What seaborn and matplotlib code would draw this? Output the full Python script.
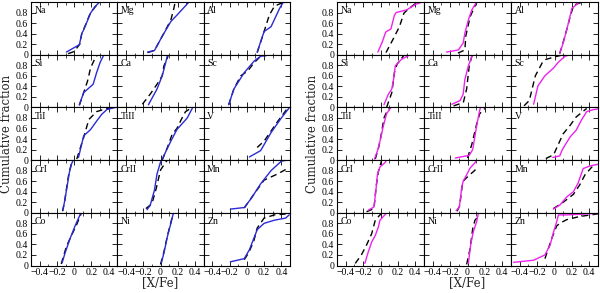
import numpy as np
import pandas as pd
import matplotlib
matplotlib.use("Agg")
import matplotlib.pyplot as plt
import seaborn as sns
from matplotlib.ticker import MultipleLocator, FixedLocator

ELEMENTS = ["Na", "Mg", "Al", "Si", "Ca", "Sc", "TiI", "TiII", "V",
            "CrI", "CrII", "Mn", "Co", "Ni", "Zn"]
X_TICKS = [-0.4, -0.2, 0.0, 0.2, 0.4]
X_TICK_LABELS = ["\u22120.4", "\u22120.2", "0", "0.2", "0.4"]
Y_TICKS = [0.0, 0.2, 0.4, 0.6, 0.8]
Y_TICK_LABELS = ["0", "0.2", "0.4", "0.6", "0.8"]

# left panel: blue solid and black dashed cumulative curves, (x, fraction)
LEFT_SOLID = {
    "Na": [(-0.09, 0.05), (0.06, 0.19), (0.09, 0.41), (0.11, 0.47), (0.19, 0.79), (0.24, 0.91), (0.32, 1.04)],
    "Mg": [(-0.15, 0.05), (-0.07, 0.08), (0.02, 0.35), (0.12, 0.63), (0.19, 0.75), (0.33, 1.0)],
    "Al": [(0.12, 0.05), (0.20, 0.44), (0.28, 0.53), (0.38, 0.88), (0.42, 0.99), (0.49, 1.0)],
    "Si": [(0.06, 0.05), (0.11, 0.28), (0.22, 0.44), (0.26, 0.66), (0.30, 0.85), (0.35, 1.02)],
    "Ca": [(-0.14, 0.05), (-0.04, 0.35), (0.02, 0.60), (0.06, 0.85), (0.085, 1.02)],
    "Sc": [(-0.21, 0.05), (-0.15, 0.35), (-0.03, 0.66), (0.085, 0.88), (0.16, 0.97), (0.24, 0.99)],
    "TiI": [(0.05, 0.05), (0.11, 0.46), (0.19, 0.58), (0.26, 0.74), (0.32, 0.87), (0.38, 0.96), (0.48, 1.0)],
    "TiII": [(0.02, 0.02), (0.12, 0.36), (0.19, 0.58), (0.31, 0.80), (0.37, 0.99)],
    "V": [(0.03, 0.06), (0.16, 0.18), (0.28, 0.52), (0.40, 0.80), (0.49, 0.99)],
    "CrI": [(-0.13, 0.05), (-0.105, 0.27), (-0.08, 0.52), (-0.055, 0.77), (-0.03, 0.93), (-0.01, 1.0), (0.10, 1.0)],
    "CrII": [(-0.155, 0.06), (-0.12, 0.14), (-0.07, 0.43), (-0.04, 0.74), (0.0, 0.96), (0.02, 1.02)],
    "Mn": [(-0.19, 0.07), (-0.03, 0.10), (0.05, 0.27), (0.16, 0.55), (0.28, 0.80), (0.40, 0.98), (0.47, 1.0)],
    "Co": [(-0.14, 0.05), (-0.105, 0.24), (-0.05, 0.50), (0.01, 0.75), (0.07, 0.97), (0.09, 1.01)],
    "Ni": [(0.01, 0.05), (0.04, 0.24), (0.08, 0.55), (0.12, 0.80), (0.15, 1.0)],
    "Zn": [(-0.19, 0.07), (-0.03, 0.13), (0.03, 0.30), (0.12, 0.68), (0.20, 0.80), (0.32, 0.86), (0.45, 0.90), (0.49, 0.96)],
}
LEFT_DASH = {
    "Na": [(-0.07, 0.02), (0.0, 0.06), (0.065, 0.20), (0.09, 0.42), (0.11, 0.48), (0.19, 0.80), (0.25, 0.92), (0.32, 1.04)],
    "Mg": [(-0.15, 0.04), (-0.07, 0.08), (0.04, 0.41), (0.12, 0.66), (0.155, 0.88), (0.17, 1.0)],
    "Al": [(0.12, 0.04), (0.20, 0.44), (0.26, 0.75), (0.32, 0.92), (0.43, 1.0)],
    "Si": [(0.06, 0.04), (0.11, 0.28), (0.155, 0.50), (0.19, 0.75), (0.25, 0.96), (0.28, 1.01)],
    "Ca": [(-0.21, 0.06), (-0.12, 0.25), (-0.04, 0.44), (0.02, 0.60), (0.04, 0.79), (0.08, 0.94), (0.09, 1.0)],
    "Sc": [(-0.21, 0.05), (-0.15, 0.35), (-0.07, 0.60), (0.01, 0.69), (0.085, 0.85), (0.16, 0.97), (0.24, 0.99)],
    "TiI": [(0.03, 0.02), (0.11, 0.43), (0.17, 0.77), (0.26, 0.92), (0.38, 0.98), (0.48, 1.0)],
    "TiII": [(0.02, 0.0), (0.08, 0.24), (0.135, 0.49), (0.19, 0.60), (0.25, 0.80), (0.29, 0.92), (0.35, 0.98)],
    "V": [(0.12, 0.24), (0.20, 0.36), (0.28, 0.55), (0.36, 0.74), (0.47, 0.98)],
    "CrI": [(-0.135, 0.03), (-0.11, 0.22), (-0.085, 0.50), (-0.06, 0.76), (-0.03, 0.94), (0.0, 1.0)],
    "CrII": [(-0.17, 0.08), (-0.10, 0.17), (-0.05, 0.46), (0.0, 0.81), (0.06, 0.96), (0.08, 1.0)],
    "Mn": [(-0.03, 0.09), (0.085, 0.36), (0.20, 0.62), (0.36, 0.74), (0.47, 0.84)],
    "Co": [(-0.15, 0.03), (-0.09, 0.36), (-0.04, 0.54), (0.03, 0.78), (0.08, 0.98)],
    "Ni": [(0.0, 0.02), (0.04, 0.26), (0.08, 0.56), (0.12, 0.82), (0.15, 1.0)],
    "Zn": [(-0.03, 0.11), (0.02, 0.24), (0.08, 0.46), (0.12, 0.71), (0.20, 0.90), (0.32, 0.96), (0.47, 0.98)],
}
# right panel: magenta solid and black dashed cumulative curves
RIGHT_SOLID = {
    "Na": [(-0.03, 0.05), (0.02, 0.24), (0.06, 0.43), (0.12, 0.49), (0.16, 0.75), (0.18, 0.80), (0.30, 0.85), (0.41, 0.96), (0.48, 1.0)],
    "Mg": [(-0.24, 0.05), (-0.105, 0.09), (-0.05, 0.22), (-0.03, 0.41), (0.01, 0.66), (0.05, 0.85), (0.105, 1.0)],
    "Al": [(0.06, 0.03), (0.10, 0.22), (0.16, 0.60), (0.20, 0.88), (0.29, 1.0)],
    "Si": [(0.04, 0.05), (0.09, 0.25), (0.13, 0.35), (0.15, 0.53), (0.17, 0.79), (0.24, 0.91), (0.34, 1.0)],
    "Ca": [(-0.18, 0.06), (-0.085, 0.13), (-0.05, 0.25), (-0.03, 0.53), (0.01, 0.79), (0.05, 0.97), (0.06, 1.01)],
    "Sc": [(-0.24, 0.06), (-0.19, 0.41), (-0.11, 0.60), (-0.01, 0.75), (0.04, 0.85), (0.12, 0.97), (0.16, 0.99)],
    "TiI": [(-0.07, 0.02), (-0.03, 0.20), (0.0, 0.40), (0.03, 0.63), (0.07, 0.88), (0.12, 1.0)],
    "TiII": [(-0.14, 0.04), (0.02, 0.09), (0.06, 0.20), (0.10, 0.60), (0.14, 0.95), (0.15, 1.0)],
    "V": [(-0.02, 0.05), (0.06, 0.08), (0.09, 0.20), (0.18, 0.44), (0.25, 0.57), (0.31, 0.76), (0.37, 0.92), (0.45, 0.96), (0.50, 0.97)],
    "CrI": [(-0.14, 0.05), (-0.075, 0.11), (-0.05, 0.47), (-0.036, 0.72), (-0.006, 0.87), (0.05, 0.95), (0.07, 1.0)],
    "CrII": [(-0.13, 0.04), (-0.094, 0.11), (-0.067, 0.47), (-0.05, 0.60), (-0.01, 0.72), (0.03, 0.85), (0.086, 0.95), (0.10, 1.0)],
    "Mn": [(-0.013, 0.07), (0.063, 0.15), (0.14, 0.30), (0.217, 0.40), (0.27, 0.56), (0.33, 0.84), (0.41, 0.89), (0.50, 0.92)],
    "Co": [(-0.18, 0.04), (-0.14, 0.26), (-0.10, 0.45), (-0.06, 0.57), (-0.025, 0.73), (-0.006, 0.86), (0.05, 0.96), (0.07, 1.0)],
    "Ni": [(0.01, 0.04), (0.036, 0.39), (0.067, 0.64), (0.105, 0.83), (0.125, 0.99)],
    "Zn": [(-0.47, 0.06), (-0.24, 0.10), (-0.11, 0.20), (-0.05, 0.39), (-0.01, 0.64), (0.025, 0.83), (0.045, 0.96), (0.14, 0.96), (0.50, 0.99)],
}
RIGHT_DASH = {
    "Na": [(0.063, 0.04), (0.14, 0.28), (0.217, 0.53), (0.27, 0.79), (0.33, 0.88), (0.41, 0.98), (0.44, 1.0)],
    "Mg": [(-0.11, 0.03), (-0.03, 0.09), (-0.02, 0.35), (0.03, 0.72), (0.09, 0.94), (0.11, 1.0)],
    "Al": [(0.06, 0.02), (0.12, 0.35), (0.18, 0.72), (0.22, 0.94), (0.32, 1.0)],
    "Si": [(0.07, 0.0), (0.13, 0.28), (0.16, 0.66), (0.19, 0.82), (0.27, 0.99)],
    "Ca": [(-0.16, 0.03), (-0.048, 0.09), (-0.01, 0.35), (0.02, 0.79), (0.05, 0.97), (0.06, 1.0)],
    "Sc": [(-0.35, 0.03), (-0.29, 0.13), (-0.22, 0.60), (-0.14, 0.85), (-0.10, 0.91), (0.005, 0.96), (0.08, 0.99)],
    "TiI": [(-0.06, 0.02), (-0.02, 0.25), (0.01, 0.50), (0.04, 0.80), (0.08, 0.95), (0.12, 1.0)],
    "TiII": [(0.0, 0.04), (0.05, 0.30), (0.10, 0.65), (0.14, 0.88), (0.20, 0.98)],
    "V": [(-0.10, 0.03), (-0.01, 0.10), (0.03, 0.25), (0.10, 0.50), (0.18, 0.66), (0.25, 0.82), (0.37, 0.98)],
    "CrI": [(-0.16, 0.02), (-0.075, 0.08), (-0.05, 0.50), (-0.025, 0.78), (0.01, 0.98)],
    "CrII": [(-0.12, 0.03), (-0.09, 0.13), (-0.055, 0.59), (0.01, 0.70), (0.067, 0.78), (0.125, 0.87)],
    "Mn": [(-0.013, 0.08), (0.10, 0.20), (0.217, 0.35), (0.29, 0.53), (0.35, 0.72), (0.43, 0.87), (0.48, 0.92)],
    "Co": [(-0.29, 0.04), (-0.22, 0.20), (-0.16, 0.39), (-0.10, 0.61), (-0.06, 0.86), (-0.006, 0.96), (0.02, 1.0)],
    "Ni": [(-0.01, 0.02), (0.03, 0.32), (0.06, 0.70), (0.086, 0.86), (0.14, 0.96)],
    "Zn": [(-0.11, 0.13), (-0.03, 0.52), (0.025, 0.75), (0.06, 0.80), (0.14, 0.87), (0.29, 0.93), (0.50, 0.98)],
}

SOLID_COLORS = ["#2a2ad6", "#ee22ee"]

sns.set_theme(style="white")
plt.rcParams["font.family"] = ["Liberation Serif", "DejaVu Serif"]
plt.rcParams["axes.linewidth"] = 0.8

fig = plt.figure(figsize=(6.0, 2.93), dpi=100)
panels = [
    (31 / 600, 290 / 600, LEFT_SOLID, LEFT_DASH, SOLID_COLORS[0]),
    (337 / 600, 598 / 600, RIGHT_SOLID, RIGHT_DASH, SOLID_COLORS[1]),
]
top = 1 - 2 / 293
bottom = 1 - 265.5 / 293

def to_df(pairs):
    arr = np.array(pairs, dtype=float)
    return pd.DataFrame({"x": arr[:, 0], "y": arr[:, 1], "order": np.arange(len(arr))})

for left, right, solid, dash, color in panels:
    gs = fig.add_gridspec(5, 3, left=left, right=right, top=top, bottom=bottom,
                          hspace=0, wspace=0)
    for i, el in enumerate(ELEMENTS):
        r, c = divmod(i, 3)
        ax = fig.add_subplot(gs[r, c])
        sns.lineplot(data=to_df(dash[el]), x="x", y="y", ax=ax, sort=False,
                     estimator=None, color="black", linewidth=1.0,
                     dashes=False, linestyle=(0, (4.5, 3)))
        sns.lineplot(data=to_df(solid[el]), x="x", y="y", ax=ax, sort=False,
                     estimator=None, color=color, linewidth=1.0)
        ax.set_xlim(-0.5, 0.5)
        ax.set_ylim(0, 1.0)
        ax.set_xlabel("")
        ax.set_ylabel("")
        ax.xaxis.set_major_locator(FixedLocator(X_TICKS))
        ax.xaxis.set_minor_locator(MultipleLocator(0.1))
        ax.yaxis.set_major_locator(FixedLocator(Y_TICKS))
        ax.tick_params(which="both", direction="in", top=True, right=True,
                       bottom=True, left=True, colors="black", labelsize=7,
                       pad=2)
        ax.tick_params(which="major", length=3.5, width=0.6)
        ax.tick_params(which="minor", length=1.8, width=0.5)
        if r == 4:
            ax.set_xticklabels(X_TICK_LABELS)
        else:
            ax.set_xticklabels([])
        if c == 0:
            ax.set_yticklabels(Y_TICK_LABELS)
        else:
            ax.set_yticklabels([])
        for s in ax.spines.values():
            s.set_color("black")
            s.set_linewidth(0.8)
        ax.text(0.04, 0.83, el, transform=ax.transAxes, va="center",
                ha="left", fontsize=7, color="black")
        ax.set_facecolor("white")

    cx = (left + right) / 2
    fig.text(cx, 1 - 283 / 293, "[X/Fe]", ha="center", va="center",
             fontsize=8.5, family=["DejaVu Serif"])
    fig.text(left - 24 / 600, (top + bottom) / 2, "Cumulative fraction",
             rotation=90, ha="center", va="center", fontsize=8.5,
             family=["DejaVu Serif"])

fig.savefig("out.png", dpi=100, facecolor="white")
